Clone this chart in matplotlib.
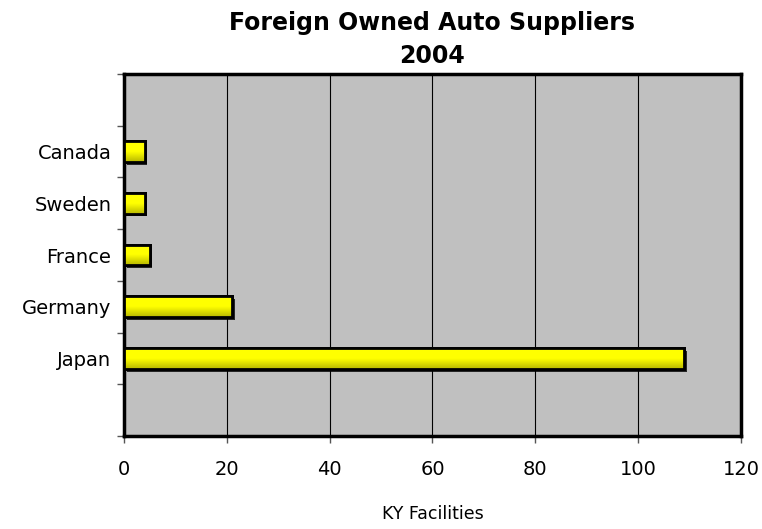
import numpy as np
import matplotlib.pyplot as plt
import matplotlib.patheffects as pe
from matplotlib.colors import LinearSegmentedColormap

plt.rcParams['font.family'] = ['DejaVu Sans']

# Data
countries = ['Japan', 'Germany', 'France', 'Sweden', 'Canada']
facilities = [109, 21, 5, 4, 4]
positions = [1.5, 2.5, 3.5, 4.5, 5.5]

fig = plt.figure(figsize=(7.62, 5.29), dpi=100)
ax = fig.add_axes([0.1627, 0.1758, 0.8097, 0.6842])
ax.set_facecolor('#c0c0c0')

bar_h = 0.4
bars = ax.barh(positions, facilities, height=bar_h, color='#ffff00',
               edgecolor='black', linewidth=2, zorder=3,
               path_effects=[pe.withSimplePatchShadow(offset=(2, -2), shadow_rgbFace='black', alpha=0.8),
                             pe.Normal()])

# vertical gradient inside each bar
grad_cmap = LinearSegmentedColormap.from_list('yel', ['#b8b800', '#ffff00', '#ffff00'])
grad = np.linspace(0, 1, 64).reshape(-1, 1)
for b, pos, val in zip(bars, positions, facilities):
    im = ax.imshow(grad, cmap=grad_cmap, aspect='auto', origin='lower',
                   extent=[0, val, pos - bar_h / 2, pos + bar_h / 2], zorder=3.5)
    im.set_clip_path(b)
    ax.barh(pos, val, height=bar_h, color='none', edgecolor='black', linewidth=2, zorder=4)

ax.set_xlim(0, 120)
ax.set_ylim(0, 7)
ax.set_xticks(range(0, 121, 20))
ax.set_yticks(range(0, 8))
ax.set_yticklabels([])
ax.set_yticks(positions, minor=True)
ax.set_yticklabels(countries, minor=True)
ax.tick_params(axis='y', which='minor', length=0, pad=9, labelsize=14)
ax.tick_params(axis='y', which='major', length=5, width=1, direction='out', color='#555555')
ax.tick_params(axis='x', length=5, width=1, direction='out', color='#555555', labelsize=14, pad=12)
ax.xaxis.grid(True, color='black', linewidth=0.8, zorder=1)
ax.set_axisbelow(True)
for s in ax.spines.values():
    s.set_linewidth(2.5)

ax.set_xlabel('KY Facilities', fontsize=12.5, labelpad=19)
ax.set_title('Foreign Owned Auto Suppliers\n2004', fontsize=17, fontweight='bold',
             linespacing=1.45, pad=8)

fig.savefig('out.png', dpi=100)
